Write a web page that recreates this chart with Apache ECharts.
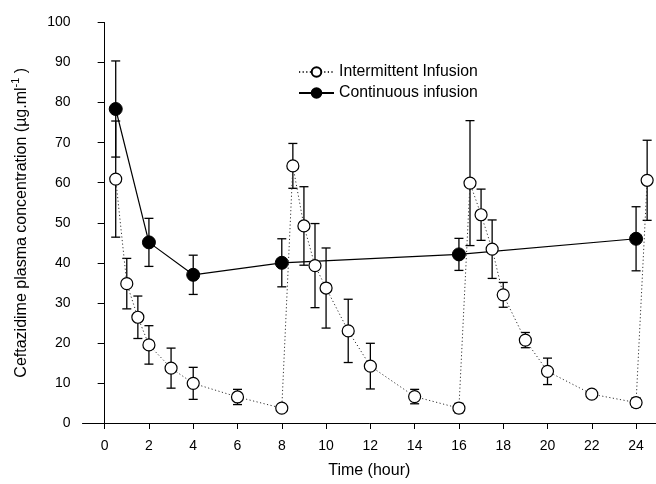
<!DOCTYPE html>
<html>
<head>
<meta charset="utf-8">
<script src="https://cdn.jsdelivr.net/npm/echarts@6/dist/echarts.min.js"></script>
<style>html,body{margin:0;padding:0;background:#fff}#c{width:656px;height:484px}</style>
</head>
<body>
<div id="c"></div>
<script>
var xTicks = [0,2,4,6,8,10,12,14,16,18,20,22,24];
var intermittentTime = [0.5,1,1.5,2,3,4,6,8,8.5,9,9.5,10,11,12,14,16,16.5,17,17.5,18,19,20,22,24,24.5];
var intermittentMean = [60.9,34.8,26.4,19.5,13.7,9.9,6.5,3.7,64.2,49.2,39.3,33.7,23.0,14.2,6.6,3.7,59.9,52.0,43.4,32.0,20.7,12.9,7.2,5.1,60.6];
var intermittentSD   = [14.5,6.3,5.3,4.8,5.0,4.0,1.9,0.5,5.6,9.8,10.5,10.0,7.9,5.7,1.8,1.2,15.6,6.4,7.3,3.1,1.9,3.3,0.9,1.2,10.0];
var continuousTime = [0.5,2,4,8,16,24];
var continuousMean = [78.4,45.1,37.0,40.0,42.1,46.0];
var continuousSD   = [12.0,6.0,4.9,6.0,4.0,8.0];

function pairs(t, m){ return t.map(function(x,i){ return [x, m[i]]; }); }
function errs(t, m, s){ return t.map(function(x,i){ return [x, m[i]-s[i], m[i]+s[i]]; }); }

function errRender(params, api){
  var x = api.value(0), lo = api.value(1), hi = api.value(2);
  var pLo = api.coord([x, lo]), pHi = api.coord([x, hi]);
  var w = 4.5;
  var st = {stroke:'#000', lineWidth:1.3};
  return {type:'group', children:[
    {type:'line', shape:{x1:pLo[0],y1:pLo[1],x2:pHi[0],y2:pHi[1]}, style:st},
    {type:'line', shape:{x1:pLo[0]-w,y1:pLo[1],x2:pLo[0]+w,y2:pLo[1]}, style:st},
    {type:'line', shape:{x1:pHi[0]-w,y1:pHi[1],x2:pHi[0]+w,y2:pHi[1]}, style:st}
  ]};
}

var chart = echarts.init(document.getElementById('c'), null, {renderer:'canvas'});
var font = 'Liberation Sans, Arial, sans-serif';
chart.setOption({
  animation:false,
  textStyle:{fontFamily:font},
  grid:{left:82.5, right:0, top:22.5, bottom:484-423.3, containLabel:false},
  legend:{
    orient:'vertical', left:293, top:59, itemWidth:35, itemHeight:12, itemGap:5,
    textStyle:{fontSize:15.8, color:'#000', fontFamily:font},
    data:['Intermittent Infusion','Continuous infusion']
  },
  xAxis:{
    type:'value', min:-1, max:24.9,
    name:'Time (hour)', nameLocation:'middle', nameGap:40,
    nameTextStyle:{fontSize:16, color:'#000'},
    axisLine:{show:true, onZero:false, lineStyle:{color:'#000', width:1}},
    axisTick:{show:true, length:6, customValues:xTicks, lineStyle:{color:'#000'}},
    axisLabel:{customValues:xTicks, fontSize:14, color:'#000', margin:16},
    splitLine:{show:false}
  },
  yAxis:{
    type:'value', min:0, max:100, interval:10,
    name:'{a|Ceftazidime plasma concentration (µg.ml}{s|-1}{a| )}', nameLocation:'middle', nameGap:50,
    nameTextStyle:{rich:{a:{fontSize:16, color:'#000', lineHeight:22, fontFamily:font}, s:{fontSize:11, color:'#000', verticalAlign:'top', lineHeight:11, fontFamily:font}}},
    axisLine:{show:true, lineStyle:{color:'#000', width:1}},
    axisTick:{show:true, length:7, lineStyle:{color:'#000'}},
    axisLabel:{fontSize:14, color:'#000', margin:12},
    splitLine:{show:false}
  },
  series:[
    {type:'custom', name:'errI', renderItem:errRender, data:errs(intermittentTime,intermittentMean,intermittentSD), z:1, silent:true},
    {type:'custom', name:'errC', renderItem:errRender, data:errs(continuousTime,continuousMean,continuousSD), z:1, silent:true},
    {type:'line', name:'Continuous infusion', data:pairs(continuousTime,continuousMean), z:3,
      symbol:'circle', symbolSize:13, showSymbol:true,
      lineStyle:{color:'#000', width:1.2}, itemStyle:{color:'#000', borderColor:'#000', borderWidth:1}},
    {type:'line', name:'Intermittent Infusion', data:pairs(intermittentTime,intermittentMean), z:4,
      symbol:'circle', symbolSize:12, showSymbol:true,
      lineStyle:{color:'#333', width:1, type:[1.2,2.4]}, itemStyle:{color:'#fff', borderColor:'#000', borderWidth:1.2}}
  ]
});
</script>
</body>
</html>
